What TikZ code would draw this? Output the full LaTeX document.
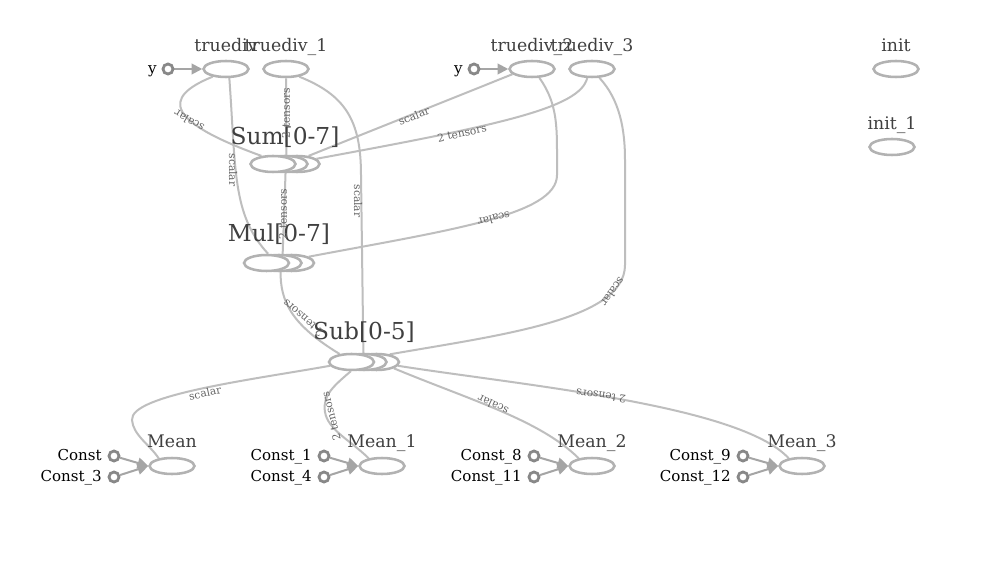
\documentclass[tikz,border=0pt]{standalone}
\usepackage{fontspec}
\setmainfont{DejaVu Serif}
\usetikzlibrary{shapes.geometric,arrows.meta}
\definecolor{opc}{RGB}{178,178,178}
\definecolor{edgec}{RGB}{190,190,190}
\definecolor{constc}{RGB}{136,136,136}
\definecolor{arrc}{RGB}{165,165,165}
\definecolor{nodec}{RGB}{64,64,64}
\definecolor{lblc}{RGB}{100,100,100}
\pgfdeclarelayer{bg}
\pgfsetlayers{bg,main}
\tikzset{
  op/.style={ellipse, draw=opc, fill=white, line width=1.9pt, minimum width=33.75pt, minimum height=12pt, inner sep=0pt},
  cst/.style={circle, draw=constc, fill=white, line width=2.1pt, minimum size=7.5pt, inner sep=0pt},
  edge/.style={draw=edgec, line width=1.5pt},
  carrow/.style={draw=arrc, line width=1.5pt, -{Triangle[length=8pt,width=8pt]}},
  elbl/.style={font=\fontsize{8}{8}\selectfont, text=lblc, inner sep=0pt},
  nlbl/.style={font=\fontsize{13}{13}\selectfont, text=nodec, anchor=base, inner sep=0pt},
  biglbl/.style={font=\fontsize{17.5}{17.5}\selectfont, text=nodec, anchor=base, inner sep=0pt},
  clbl/.style={font=\fontsize{11.3}{11.3}\selectfont, text=black, anchor=base east, inner sep=0pt}
}
\begin{document}
\begin{tikzpicture}[x=0.75pt,y=-0.75pt]
\useasboundingbox (0,0) rectangle (993,570);
% top row ops
\node[op] (td0) at (226,69) {};
\node[op] (td1) at (286,69) {};
\node[op] (td2) at (532,69) {};
\node[op] (td3) at (592,69) {};
\node[op] (init) at (896,69) {};
\node[op] (init1) at (892,147) {};
\node[nlbl] (ltd0) at (226,52) {truediv};
\node[nlbl] (ltd1) at (286,52) {truediv\_1};
\node[nlbl] (ltd2) at (532,52) {truediv\_2};
\node[nlbl] (ltd3) at (592,52) {truediv\_3};
\node[nlbl] (linit) at (896,52) {init};
\node[nlbl] (linit1) at (892,130) {init\_1};
% y inputs
\node[cst] (y0) at (168,69) {};
\node[cst] (y1) at (474,69) {};
\node[clbl] (ly0) at (157,74) {y};
\node[clbl] (ly1) at (463,74) {y};
% stacks
\node[op] (sum3) at (297,164) {};
\node[op] (sum2) at (285,164) {};
\node[op] (sum1) at (273,164) {};
\node[biglbl] (lsum) at (285,145) {Sum[0-7]};
\node[op] (mul3) at (291.5,263) {};
\node[op] (mul2) at (279,263) {};
\node[op] (mul1) at (266.5,263) {};
\node[biglbl] (lmul) at (279,242) {Mul[0-7]};
\node[op] (sub3) at (376.5,362) {};
\node[op] (sub2) at (364,362) {};
\node[op] (sub1) at (351.5,362) {};
\node[biglbl] (lsub) at (364,340) {Sub[0-5]};
% means
\node[op] (mean0) at (172,466) {};
\node[op] (mean1) at (382,466) {};
\node[op] (mean2) at (592,466) {};
\node[op] (mean3) at (802,466) {};
\node[nlbl] (lmean0) at (172,447) {Mean};
\node[nlbl] (lmean1) at (382,447) {Mean\_1};
\node[nlbl] (lmean2) at (592,447) {Mean\_2};
\node[nlbl] (lmean3) at (802,447) {Mean\_3};
% consts
\node[cst] (c0) at (114,456) {};
\node[cst] (c3) at (114,477) {};
\node[cst] (c1) at (324,456) {};
\node[cst] (c4) at (324,477) {};
\node[cst] (c8) at (534,456) {};
\node[cst] (c11) at (534,477) {};
\node[cst] (c9) at (743,456) {};
\node[cst] (c12) at (743,477) {};
\node[clbl] (lc0) at (102,460) {Const};
\node[clbl] (lc3) at (102,481) {Const\_3};
\node[clbl] (lc1) at (312,460) {Const\_1};
\node[clbl] (lc4) at (312,481) {Const\_4};
\node[clbl] (lc8) at (522,460) {Const\_8};
\node[clbl] (lc11) at (522,481) {Const\_11};
\node[clbl] (lc9) at (731,460) {Const\_9};
\node[clbl] (lc12) at (731,481) {Const\_12};
\begin{pgfonlayer}{bg}
\fill[white] (0,0) rectangle (993,570);
% y arrows
\draw[carrow] (y0) -- (td0.west);
\draw[carrow] (y1) -- (td2.west);
% const arrows
\draw[carrow] (c0) -- (mean0.west);
\draw[carrow] (c3) -- (mean0.west);
\draw[carrow] (c1) -- (mean1.west);
\draw[carrow] (c4) -- (mean1.west);
\draw[carrow] (c8) -- (mean2.west);
\draw[carrow] (c11) -- (mean2.west);
\draw[carrow] (c9) -- (mean3.west);
\draw[carrow] (c12) -- (mean3.west);
% edges
\draw[edge] (td0.-150) .. controls (160,98) and (168,122) .. (sum1.145);
\draw[edge] (td0.-70) .. controls (236,170) and (232,215) .. (mul1.80);
\draw[edge] (td1.-90) -- (sum1.30);
\draw[edge] (td1.-30) .. controls (345,95) and (361,120) .. (361,175) -- (sub1.34);
\draw[edge] (td2.-165) -- (sum3.35);
\draw[edge] (td3.-118) .. controls (580,108) and (500,125) .. (sum3.15);
\draw[edge] (td2.-50) .. controls (555,100) and (557,120) .. (557,150) -- (557,175) .. controls (557,215) and (450,230) .. (mul3.20);
\draw[edge] (td3.-50) .. controls (620,100) and (625,130) .. (625,160) -- (625,265) .. controls (625,320) and (500,335) .. (sub3.30);
\draw[edge] (sum1.-32) -- (mul1.23);
\draw[edge] (mul1.-28) .. controls (280,302) and (292,325) .. (sub1.146);
\draw[edge] (sub1.190) .. controls (250,380) and (130,395) .. (132,420) .. controls (133,435) and (150,445) .. (mean0.150);
\draw[edge] (sub1.-95) .. controls (335,385) and (322,395) .. (325,412) .. controls (328,430) and (350,440) .. (mean1.150);
\draw[edge] (sub3.-20) .. controls (470,400) and (540,420) .. (mean2.150);
\draw[edge] (sub3.-10) .. controls (520,385) and (740,405) .. (mean3.150);
\end{pgfonlayer}
% edge labels
\node[elbl, rotate=150] (e1) at (189,121) {scalar};
\node[elbl, rotate=-90] (e2) at (233,170) {scalar};
\node[elbl, rotate=90] (e3) at (286,113) {2 tensors};
\node[elbl, rotate=-90] (e4) at (358,201) {scalar};
\node[elbl, rotate=22] (e5) at (414,116) {scalar};
\node[elbl, rotate=12] (e6) at (462,133) {2 tensors};
\node[elbl, rotate=194] (e7) at (494,219) {scalar};
\node[elbl, rotate=235] (e8) at (613,292) {scalar};
\node[elbl, rotate=90] (e9) at (283,214) {2 tensors};
\node[elbl, rotate=139] (e10) at (303,318) {2 tensors};
\node[elbl, rotate=12] (e11) at (205,393) {scalar};
\node[elbl, rotate=104] (e12) at (331,416) {2 tensors};
\node[elbl, rotate=155] (e13) at (493,405) {scalar};
\node[elbl, rotate=172] (e14) at (601,396) {2 tensors};
\end{tikzpicture}
\end{document}
